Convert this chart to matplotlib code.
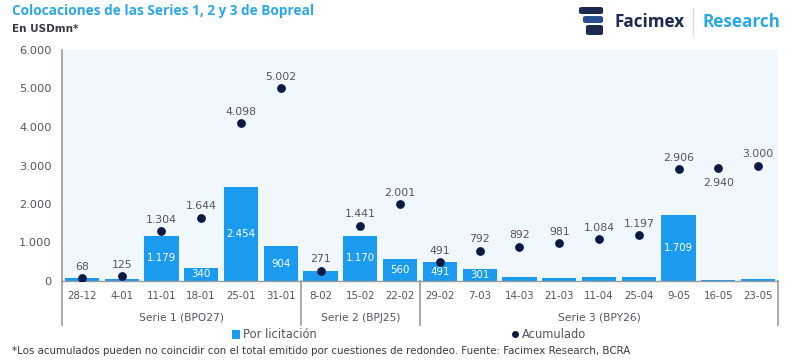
import matplotlib
matplotlib.use("Agg")
import matplotlib.pyplot as plt
from matplotlib.patches import FancyBboxPatch
from matplotlib.lines import Line2D
from matplotlib.patches import Patch
import matplotlib.transforms as mtransforms

plt.rcParams['font.family'] = ['DejaVu Sans']

# ---------------- data ----------------
dates = ["28-12", "4-01", "11-01", "18-01", "25-01", "31-01",
         "8-02", "15-02", "22-02",
         "29-02", "7-03", "14-03", "21-03", "11-04", "25-04", "9-05", "16-05", "23-05"]
por_licitacion = [68, 57, 1179, 340, 2454, 904,
                  271, 1170, 560,
                  491, 301, 100, 89, 103, 113, 1709, 34, 60]
bar_labels = [None, None, "1.179", "340", "2.454", "904",
              None, "1.170", "560",
              "491", "301", None, None, None, None, "1.709", None, None]
acumulado = [68, 125, 1304, 1644, 4098, 5002,
             271, 1441, 2001,
             491, 792, 892, 981, 1084, 1197, 2906, 2940, 3000]
groups = ["Serie 1 (BPO27)", "Serie 2 (BPJ25)", "Serie 3 (BPY26)"]
group_sizes = [6, 3, 9]
yticks = [0, 1000, 2000, 3000, 4000, 5000, 6000]

# ---------------- styles ----------------
BAR = "#1a9bf0"
DOT = "#0b1a45"
TXT = "#55555f"
BG = "#f0f7fd"
LINE = "#9a9aa2"

def fmt(v):
    return f"{v:,}".replace(",", ".")

fig = plt.figure(figsize=(8, 3.61), dpi=100)
ax = fig.add_axes([62/800, 1-281/361, (778-62)/800, (281-50)/361])
ax.set_facecolor(BG)

x = list(range(len(dates)))
ax.bar(x, por_licitacion, width=0.86, color=BAR, zorder=2)
for xi, v, lab in zip(x, por_licitacion, bar_labels):
    if lab:
        ax.text(xi, v/2, lab, ha="center", va="center", color="white",
                fontsize=7.4, zorder=4)

ax.scatter(x, acumulado, s=28, color=DOT, zorder=3)
for xi, v in zip(x, acumulado):
    if v == 2940:
        ax.annotate(fmt(v), (xi, v), xytext=(0, -7), textcoords="offset points",
                    ha="center", va="top", fontsize=7.8, color=TXT)
    else:
        ax.annotate(fmt(v), (xi, v), xytext=(0, 4.5), textcoords="offset points",
                    ha="center", va="bottom", fontsize=7.8, color=TXT)

ax.set_xlim(-0.5, len(dates)-0.5)
ax.set_ylim(0, 6000)
ax.set_yticks(yticks)
ax.set_yticklabels([fmt(t) for t in yticks])
ax.set_xticks(x)
ax.set_xticklabels(dates)
ax.tick_params(axis="x", length=0, pad=7, labelsize=7.4, labelcolor=TXT)
ax.tick_params(axis="y", length=0, pad=7.5, labelsize=8.2, labelcolor=TXT)

for s in ["top", "right"]:
    ax.spines[s].set_visible(False)
ax.spines["left"].set_color(LINE)
ax.spines["bottom"].set_color(LINE)
ax.spines["left"].set_linewidth(1.2)
ax.spines["bottom"].set_linewidth(1.0)

# group separators and labels
trans = mtransforms.blended_transform_factory(ax.transData, ax.transAxes)
ybot = -(325-281)/231
bounds = [-0.5]
for g in group_sizes:
    bounds.append(bounds[-1] + g)
for b in bounds:
    ax.plot([b, b], [0, ybot], transform=trans, color=LINE, lw=1.2, clip_on=False, zorder=5)
for i, g in enumerate(groups):
    c = (bounds[i] + bounds[i+1]) / 2
    ax.text(c, -(318-281)/231, g, transform=trans, ha="center", va="center",
            fontsize=7.7, color=TXT)

# legend
handles = [Patch(facecolor=BAR, edgecolor="none"),
           Line2D([], [], marker="o", color="none", markerfacecolor=DOT,
                  markeredgecolor=DOT, markersize=4)]
fig.legend(handles, ["Por licitación", "Acumulado"], loc="center",
           bbox_to_anchor=(409/800, 1-335/361), ncol=2, frameon=False,
           fontsize=8.3, labelcolor=TXT, columnspacing=16.8, handlelength=0.7,
           handletextpad=0.3, handleheight=0.7)

# titles
fig.text(12/800, 1-11/361, "Colocaciones de las Series 1, 2 y 3 de Bopreal",
         ha="left", va="center", fontsize=9.8, fontweight="bold", color="#2aa7e6",
         family=["Open Sans", "DejaVu Sans"])
fig.text(12/800, 1-29/361, "En USDmn*", ha="left", va="center", fontsize=7.5,
         fontweight="bold", color="#3a3a44")
fig.text(12/800, 1-351/361,
         "*Los acumulados pueden no coincidir con el total emitido por cuestiones de redondeo. Fuente: Facimex Research, BCRA",
         ha="left", va="center", fontsize=7.35, color="#3a3a44")

# logo
NAVY = "#1b2a4e"
def rbox(x0, y0, w, h, col):
    p = FancyBboxPatch((x0/800, 1-(y0+h)/361), w/800, h/361,
                       boxstyle="round,pad=0,rounding_size=0.004",
                       transform=fig.transFigure, facecolor=col, edgecolor="none")
    fig.patches.append(p)
rbox(579, 7, 24, 7, NAVY)
rbox(583, 16, 20, 7, "#2a4f8f")
rbox(586, 25, 17, 10, NAVY)
fig.text(615/800, 1-22/361, "Facimex", ha="left", va="center", fontsize=12.3,
         fontweight="bold", color=NAVY, family=["Open Sans", "DejaVu Sans"])
fig.add_artist(Line2D([693/800, 693/800], [1-9/361, 1-36/361], color="#d8dce4", lw=1))
fig.text(703/800, 1-22/361, "Research", ha="left", va="center", fontsize=12.3,
         fontweight="bold", color="#2aa7e6", family=["Open Sans", "DejaVu Sans"])

fig.savefig("out.png", dpi=100)
